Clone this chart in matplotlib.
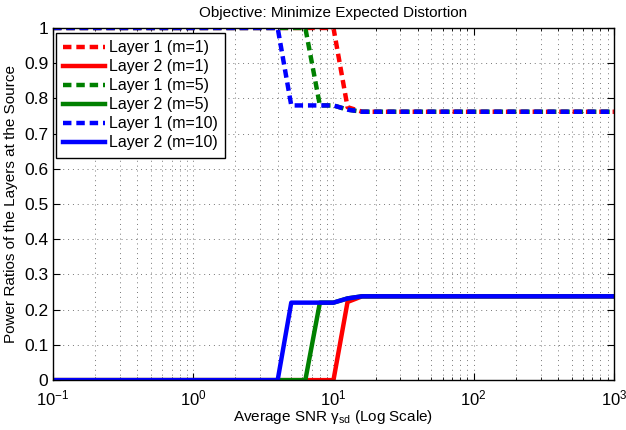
import numpy as np
import matplotlib.pyplot as plt
from matplotlib.ticker import LogLocator, NullFormatter

plt.rcParams['font.family'] = ['Liberation Sans', 'DejaVu Sans']
plt.rcParams['mathtext.fontset'] = 'custom'
plt.rcParams['mathtext.rm'] = 'Liberation Sans'
plt.rcParams['mathtext.it'] = 'Liberation Sans'

# breakpoints (SNR, linear scale)
snr_m1 = [0.1, 10.0, 12.6, 16.0, 1000.0]
layer1_m1 = [1.0, 1.0, 0.775, 0.762, 0.762]
layer2_m1 = [0.0, 0.0, 0.222, 0.238, 0.238]

snr_m5 = [0.1, 6.3, 8.0, 10.0, 12.6, 16.0, 1000.0]
layer1_m5 = [1.0, 1.0, 0.78, 0.78, 0.768, 0.762, 0.762]
layer2_m5 = [0.0, 0.0, 0.22, 0.22, 0.232, 0.238, 0.238]

snr_m10 = [0.1, 4.0, 5.0, 10.0, 12.6, 16.0, 1000.0]
layer1_m10 = [1.0, 1.0, 0.78, 0.78, 0.768, 0.762, 0.762]
layer2_m10 = [0.0, 0.0, 0.22, 0.22, 0.232, 0.238, 0.238]

series = [
    (snr_m1, layer1_m1, "red", "--", "Layer 1 (m=1)"),
    (snr_m1, layer2_m1, "red", "-", "Layer 2 (m=1)"),
    (snr_m5, layer1_m5, "green", "--", "Layer 1 (m=5)"),
    (snr_m5, layer2_m5, "green", "-", "Layer 2 (m=5)"),
    (snr_m10, layer1_m10, "blue", "--", "Layer 1 (m=10)"),
    (snr_m10, layer2_m10, "blue", "-", "Layer 2 (m=10)"),
]

fig = plt.figure(figsize=(6.26, 4.30), dpi=100)
ax = fig.add_axes([0.0847, 0.116, 0.896, 0.819])

for x, y, c, ls, lab in series:
    ax.plot(x, y, color=c, linestyle=ls, linewidth=3.2, label=lab,
            dashes=(1.9, 1.1) if ls == "--" else (None, None))

ax.set_xscale("log")
ax.set_xlim(0.1, 1000)
ax.set_ylim(0, 1)
ax.set_yticks(np.arange(0, 1.01, 0.1))
ax.set_yticklabels(["0", "0.1", "0.2", "0.3", "0.4", "0.5", "0.6", "0.7", "0.8", "0.9", "1"])
ax.xaxis.set_minor_locator(LogLocator(base=10, subs=np.arange(2, 10)))
ax.xaxis.set_minor_formatter(NullFormatter())

ax.grid(True, which="major", linestyle=(0, (1, 4)), color="#777777", linewidth=0.7)
ax.grid(True, which="minor", axis="x", linestyle=(0, (1, 4)), color="#777777", linewidth=0.7)
ax.tick_params(which="both", direction="in", top=True, right=True, labelsize=12.5)
ax.tick_params(axis="x", which="major", pad=6, labelsize=12)
ax.tick_params(which="major", length=5)
ax.tick_params(which="minor", length=2.5)
for s in ax.spines.values():
    s.set_linewidth(1.0)

ax.set_title("Objective: Minimize Expected Distortion", fontsize=11, pad=8)
ax.set_xlabel(r"Average SNR $\gamma_{\mathrm{sd}}$ (Log Scale)", fontsize=11, labelpad=0)
ax.set_ylabel("Power Ratios of the Layers at the Source", fontsize=11)

leg = ax.legend(loc="upper left", bbox_to_anchor=(0.005, 0.985), borderaxespad=0,
                fontsize=11.5, handlelength=2.6, handletextpad=0.3, labelspacing=0.25,
                borderpad=0.45, fancybox=False, framealpha=1)
leg.get_frame().set_edgecolor("black")
leg.get_frame().set_linewidth(1.0)

fig.savefig("out.png", dpi=100)
